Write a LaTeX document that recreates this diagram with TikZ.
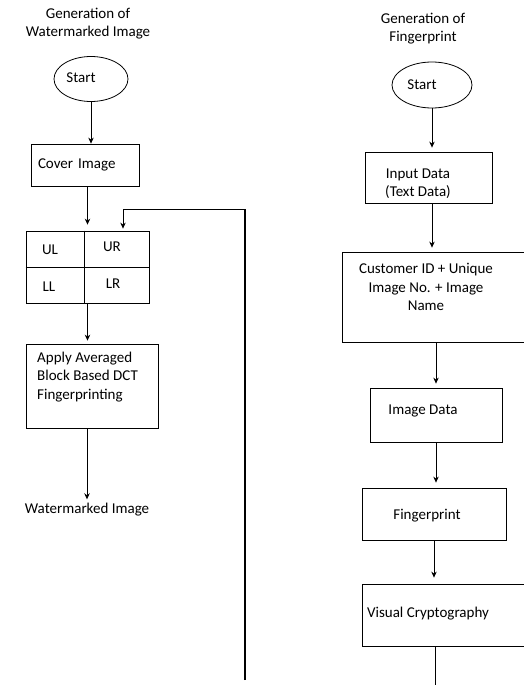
\documentclass[tikz,border=0pt]{standalone}
\usepackage{fontspec}
\setmainfont{Carlito}
\usetikzlibrary{arrows.meta,shapes.geometric}
\begin{document}
\begin{tikzpicture}[x=1pt,y=-1pt,
  box/.style={draw, rectangle, line width=0.8pt, inner sep=0pt},
  oval/.style={draw, ellipse, line width=0.8pt, inner sep=0pt},
  txt/.style={inner sep=0pt, align=center, font=\fontsize{15}{18.5}\selectfont},
  arr/.style={line width=0.8pt, -{Stealth[length=6pt,width=5.5pt]}}]
\useasboundingbox (0,0) rectangle (524,685);

% ---------- left column ----------
\node[txt] (wtitle) at (88,23.5) {Generation of\\Watermarked Image};
\node[oval, minimum width=74pt, minimum height=45pt] (wstart) at (91,79) {};
\node[txt] (wstartt) at (81,78) {Start};
\node[box, minimum width=108pt, minimum height=42pt, text width=94pt, align=left,
      font=\fontsize{15}{18.5}\selectfont] (cover) at (85,165) {Cover Image};
\node[box, minimum width=123pt, minimum height=72pt] (grid) at (87.5,267) {};
\draw[line width=0.8pt] (grid.north -| 84,0) -- (grid.south -| 84,0);
\draw[line width=0.8pt] (grid.west) -- (grid.east);
\node[txt] (ul) at (50,250) {UL};
\node[txt] (ur) at (112,247) {UR};
\node[txt] (ll) at (49,287) {LL};
\node[txt] (lr) at (113,284) {LR};
\node[box, minimum width=132pt, minimum height=84pt] (apply) at (92,386) {};
\node[txt, align=left, anchor=west] (applyt) at (37,377) {Apply Averaged\\Block Based DCT\\Fingerprinting};
\node[txt] (wm) at (87,510) {Watermarked Image};

\draw[arr] (wstart.south) -- (wstart.south |- cover.north);
\draw[arr, shorten >=6pt] (grid.north |- cover.south) -- (grid.north);
\draw[arr, shorten >=3pt] (grid.south) -- (grid.south |- apply.north);
\draw[arr, shorten >=4pt] (wm.north |- apply.south) -- (wm.north);

\coordinate (fbb) at (245,680);
\coordinate (fbt) at (245,209);
\draw[line width=1.6pt] (fbb) -- (fbt);
\draw[arr, shorten >=2pt] (fbt) -| ([xshift=35.5pt]grid.north);

% ---------- right column ----------
\node[txt] (ftitle) at (423,28.5) {Generation of\\Fingerprint};
\node[oval, minimum width=80pt, minimum height=46pt] (fstart) at (432,85) {};
\node[txt] (fstartt) at (422,85) {Start};
\node[box, minimum width=127pt, minimum height=51pt] (input) at (428.5,177.5) {};
\node[txt] (inputt) at (418,183.5) {Input Data\\(Text Data)};
\node[box, minimum width=183pt, minimum height=90pt] (cust) at (433.5,297) {};
\node[txt] (custt) at (426,287) {Customer ID + Unique\\Image No. + Image\\Name};
\node[box, minimum width=132pt, minimum height=54pt] (imgd) at (436,415) {};
\node[txt] (imgdt) at (423,411) {Image Data};
\node[box, minimum width=144pt, minimum height=52pt] (fp) at (434,514) {};
\node[txt] (fpt) at (427,516) {Fingerprint};
\node[box, minimum width=163pt, minimum height=62pt] (vc) at (443.5,615) {};
\node[txt] (vct) at (428,614) {Visual Cryptography};

\draw[arr, shorten >=4pt] (fstart.south) -- (fstart.south |- input.north);
\draw[arr, shorten >=4pt] (fstart.south |- input.south) -- (fstart.south |- cust.north);
\draw[arr, shorten >=4pt] (imgd.north |- cust.south) -- (imgd.north);
\draw[arr, shorten >=5pt] (imgd.south) -- (imgd.south |- fp.north);
\draw[arr, shorten >=6pt] (fp.south) -- (fp.south |- vc.north);
\coordinate (vcend) at (435,685);
\draw[line width=1pt] (vc.south -| vcend) -- (vcend);
\end{tikzpicture}
\end{document}
